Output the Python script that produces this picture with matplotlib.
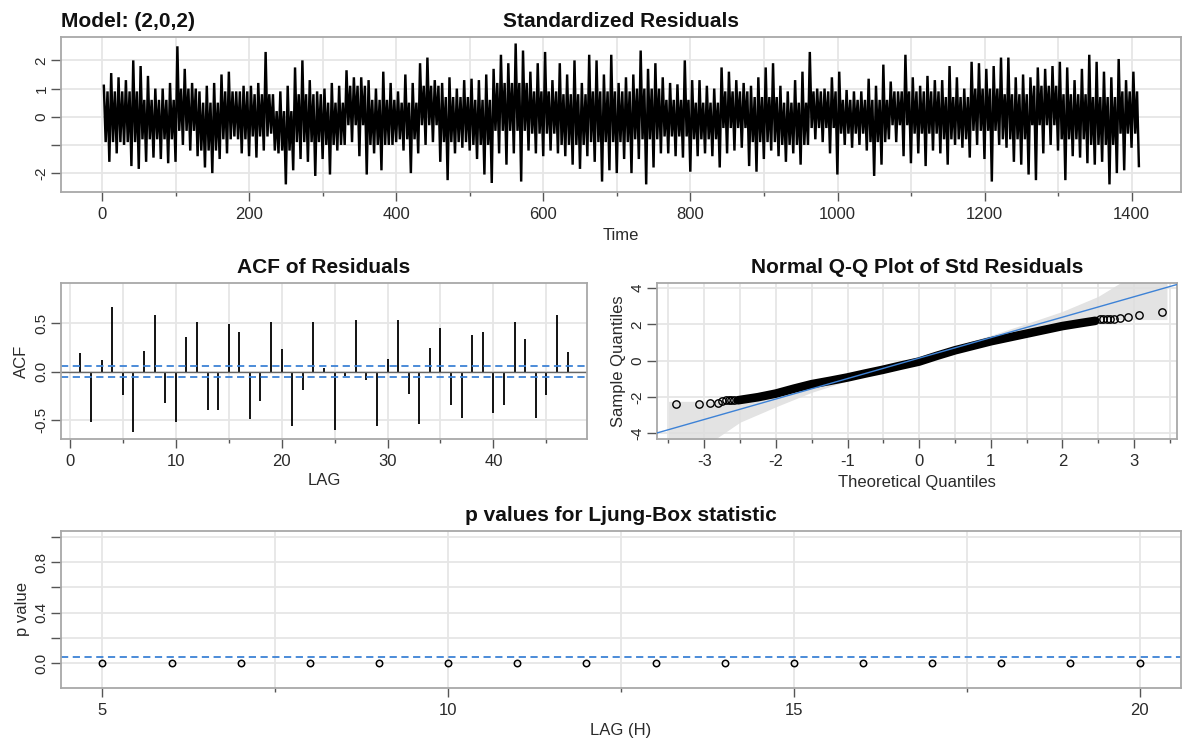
import numpy as np
import matplotlib
matplotlib.use("Agg")
import matplotlib.pyplot as plt

plt.rcParams['font.family'] = ['Liberation Sans', 'DejaVu Sans']
plt.rcParams['axes.unicode_minus'] = False

# ---------------- data ----------------
# standardized residuals: per 10-step bin, highest and lowest excursion
resid_bin_width = 10
resid_hi = [1.1, 1.55, 1.4, 1.3, 2.0, 1.8, 1.45, 1.0, 1.0, 1.2,
            2.5, 1.7, 1.2, 0.9, 1.1, 1.2, 1.5, 1.6, 0.9, 1.1,
            1.1, 1.2, 2.3, 0.8, 0.9, 1.1, 1.75, 2.0, 1.3, 0.9,
            1.0, 1.2, 1.1, 1.65, 1.4, 1.4, 1.3, 1.0, 1.6, 1.2,
            0.9, 1.5, 1.2, 1.9, 2.1, 1.3, 1.2, 1.4, 1.0, 1.3,
            1.35, 1.3, 1.5, 1.7, 2.2, 1.9, 2.6, 2.35, 1.6, 1.9,
            2.3, 1.3, 1.9, 1.5, 2.0, 1.2, 2.2, 2.0, 1.5, 2.2,
            1.2, 1.4, 1.5, 2.35, 1.7, 1.9, 1.4, 1.2, 1.15, 2.0,
            1.3, 1.3, 1.1, 1.0, 1.75, 1.6, 1.3, 1.2, 1.1, 1.4,
            1.75, 1.9, 1.1, 0.9, 1.3, 1.6, 2.3, 1.0, 1.0, 1.4,
            1.6, 0.95, 0.9, 0.9, 1.35, 1.1, 1.85, 1.25, 0.9, 2.2,
            1.4, 1.1, 1.45, 1.3, 1.3, 1.8, 1.4, 1.0, 1.95, 1.9,
            1.7, 1.8, 2.1, 2.1, 1.4, 1.5, 1.4, 1.75, 1.7, 1.8,
            1.95, 1.75, 1.3, 1.7, 2.2, 1.95, 1.6, 1.4, 2.05, 1.3,
            1.6]
resid_lo = [-1.6, -1.3, -1.0, -1.75, -1.85, -1.6, -1.45, -1.5, -1.65, -1.6,
            -1.0, -1.2, -1.4, -1.8, -2.0, -1.5, -1.3, -0.7, -1.3, -1.4,
            -1.45, -1.2, -0.6, -1.3, -2.4, -1.9, -1.5, -1.6, -2.1, -1.5,
            -2.05, -1.2, -1.0, -0.9, -1.4, -2.05, -1.3, -1.9, -1.0, -0.9,
            -1.2, -2.0, -1.3, -1.0, -0.9, -1.6, -2.25, -1.3, -1.1, -1.2,
            -1.5, -2.05, -2.35, -1.3, -1.7, -1.3, -2.3, -1.2, -1.3, -1.4,
            -1.2, -1.3, -1.4, -1.7, -1.85, -1.4, -1.6, -2.3, -1.9, -2.0,
            -1.5, -2.0, -1.5, -2.4, -1.8, -1.3, -1.3, -1.4, -1.45, -1.95,
            -1.4, -1.3, -1.4, -1.8, -1.3, -1.2, -1.1, -1.75, -1.95, -1.5,
            -1.2, -1.4, -1.6, -1.3, -1.7, -1.0, -0.8, -0.9, -1.3, -2.05,
            -1.0, -1.1, -1.0, -1.2, -2.1, -1.7, -0.8, -0.9, -1.4, -1.65,
            -1.3, -1.75, -1.2, -1.3, -1.7, -1.0, -1.1, -1.45, -1.0, -1.5,
            -2.3, -1.0, -1.1, -1.6, -1.7, -2.05, -2.25, -1.3, -1.0, -1.2,
            -2.25, -1.4, -1.45, -1.65, -1.7, -1.6, -2.4, -2.0, -1.9, -1.1,
            -1.75]
# typical extent of the dense core of the trace, per stretch of time
core_seg_start = [0, 50, 100, 130, 160, 200, 230, 260, 300, 330, 360, 400, 430,
                  460, 500, 530, 580, 620, 660, 720, 760, 800, 840, 880, 920, 960,
                  1000, 1040, 1070, 1100, 1140, 1180, 1220, 1260, 1300, 1340, 1380]
core_lo = [-0.9, -0.8, -0.5, -1.2, -0.8, -0.7, -1.2, -0.9, -1.0, -0.3, -1.0, -0.8,
           -0.3, -0.9, -1.0, -0.5, -0.6, -1.0, -0.9, -0.8, -0.7, -0.8, -0.4, -0.9,
           -1.0, -0.4, -0.6, -0.9, -0.3, -0.6, -0.8, -0.5, -0.8, -0.3, -0.8, -1.0, -0.6]
core_hi = [0.9, 0.6, 1.0, 0.5, 0.9, 0.8, 0.2, 0.8, 0.5, 1.1, 0.6, 0.5, 1.1, 0.7,
           0.6, 1.2, 0.9, 0.8, 0.9, 1.0, 0.6, 0.5, 0.9, 0.7, 0.5, 0.9, 0.6, 0.6,
           0.9, 0.9, 0.7, 1.0, 0.8, 1.1, 0.8, 0.7, 0.9]

acf_lags = list(range(1, 48))
acf_values = [0.19, -0.52, 0.12, 0.67, -0.24, -0.63, 0.21, 0.59, -0.33, -0.52,
              0.36, 0.52, -0.40, -0.40, 0.49, 0.41, -0.49, -0.31, 0.51, 0.23,
              -0.57, -0.19, 0.52, 0.04, -0.61, -0.05, 0.54, -0.09, -0.56, 0.13,
              0.54, -0.23, -0.54, 0.24, 0.45, -0.35, -0.48, 0.375, 0.41, -0.43,
              -0.35, 0.52, 0.34, -0.48, -0.24, 0.59, 0.20]
acf_bound = 0.053

qq_core_theo = [-2.53, -2.25, -2.0, -1.75, -1.5, -1.25, -1.0, -0.75, -0.5, -0.25,
                0.0, 0.25, 0.5, 0.75, 1.0, 1.25, 1.5, 1.75, 2.0, 2.25, 2.46]
qq_core_sample = [-2.19, -2.02, -1.82, -1.55, -1.30, -1.12, -0.93, -0.71, -0.50, -0.27,
                  -0.05, 0.27, 0.57, 0.82, 1.07, 1.28, 1.49, 1.70, 1.91, 2.07, 2.20]
qq_tail_theo = [-3.39, -3.07, -2.92, -2.81, -2.75, -2.70, -2.66, -2.62, -2.58,
                2.52, 2.57, 2.62, 2.67, 2.72, 2.81, 2.92, 3.07, 3.39]
qq_tail_sample = [-2.39, -2.39, -2.34, -2.34, -2.21, -2.20, -2.20, -2.19, -2.19,
                  2.28, 2.29, 2.30, 2.30, 2.31, 2.38, 2.39, 2.50, 2.69]
qq_line_intercept = 0.14
qq_line_slope = 1.13
qq_band_x = [-3.5, -3.0, -2.5, -2.0, -1.5, -1.0, -0.5, 0.0, 0.5, 1.0, 1.5, 2.0, 2.5, 2.83, 3.46]
qq_band_upper = [-2.25, -2.25, -2.2, -1.85, -1.38, -0.86, -0.33, 0.22, 0.80, 1.40, 2.05, 2.72, 3.55, 4.35, 5.6]
qq_band_lower = [-5.6, -4.75, -3.40, -2.55, -1.75, -1.12, -0.52, 0.06, 0.61, 1.14, 1.62, 2.10, 2.25, 2.27, 2.27]

lb_lags = list(range(5, 21))
lb_pvalues = [0.0] * 16
lb_level = 0.05

# ---------------- styling ----------------
W, H = 1183, 740
BLUE = '#3d82d6'
GRID = '#e6e6e6'
SPINE = '#a8a8a8'
TXT = '#2a2a2a'
TICKC = '#555555'
XT = 12
YT = 11
TT = 15
LAB = 12

fig = plt.figure(figsize=(W / 100, H / 100), dpi=100)


def axes_px(l, t, r, b):
    return fig.add_axes([l / W, 1 - b / H, (r - l) / W, (b - t) / H])


def style(ax):
    for s in ax.spines.values():
        s.set_color(SPINE)
        s.set_linewidth(1.3)
    ax.set_axisbelow(True)
    ax.grid(True, which='both', color=GRID, lw=1.3)
    ax.tick_params(axis='x', which='major', length=6.5, width=1.0, color=TICKC,
                   labelsize=XT, labelcolor=TXT, pad=4.5)
    ax.tick_params(axis='x', which='minor', length=3, width=1.0, color=TICKC)
    ax.tick_params(axis='y', which='major', length=7, width=1.0, color=TICKC,
                   labelsize=YT, labelcolor=TXT, pad=2, labelrotation=90)
    for lab in ax.get_yticklabels():
        lab.set_va('center')


def xlabel(ax, text, px_below, height_px):
    ax.set_xlabel(text, fontsize=LAB, color=TXT, va='center')
    ax.xaxis.set_label_coords(0.5, -px_below / height_px)


def ylabel(ax, text, px_left, width_px):
    ax.set_ylabel(text, fontsize=LAB, color=TXT, va='center')
    ax.yaxis.set_label_coords(-px_left / width_px, 0.5)


# ---------------- top: standardized residuals ----------------
ax1 = axes_px(61, 37, 1181, 192)
t_vals, r_vals = [], []
for i, (hi, lo) in enumerate(zip(resid_hi, resid_lo)):
    base = 1 + i * resid_bin_width
    k = int(np.searchsorted(core_seg_start, base, side='right')) - 1
    t_vals += [base + 1.25, base + 3.75, base + 6.25, base + 8.75]
    r_vals += [hi, core_lo[k], core_hi[k], lo]
ax1.plot(t_vals, r_vals, color='black', lw=1.75, zorder=3, solid_joinstyle='miter')
ax1.set_xlim(-56, 1467)
ax1.set_ylim(-2.67, 2.83)
ax1.set_xticks(np.arange(0, 1401, 200))
ax1.set_xticks(np.arange(100, 1400, 200), minor=True)
ax1.set_yticks([-2, -1, 0, 1, 2])
ax1.set_yticklabels(['-2', '', '0', '1', '2'])
style(ax1)
ax1.set_title('Standardized Residuals', fontsize=TT, fontweight='bold', pad=7, color='#111111')
ax1.set_title('Model: (2,0,2)', loc='left', fontsize=TT, fontweight='bold', pad=7, color='#111111')
xlabel(ax1, 'Time', 43, 155)

# ---------------- ACF ----------------
ax2 = axes_px(61, 283, 587, 439)
ax2.vlines(acf_lags, 0, acf_values, color='black', lw=1.3)
ax2.axhline(0, color='#666666', lw=1.0)
for b in (acf_bound, -acf_bound):
    ax2.axhline(b, color=BLUE, lw=1.3, ls=(0, (4, 2.5)))
ax2.set_xlim(-0.84, 48.84)
ax2.set_ylim(-0.70, 0.92)
ax2.set_xticks([0, 10, 20, 30, 40])
ax2.set_xticks([5, 15, 25, 35, 45], minor=True)
ax2.set_yticks([-0.5, 0.0, 0.5])
ax2.set_yticklabels(['-0.5', '0.0', '0.5'])
style(ax2)
ax2.set_title('ACF of Residuals', fontsize=TT, fontweight='bold', pad=7, color='#111111')
xlabel(ax2, 'LAG', 41, 156)
ylabel(ax2, 'ACF', 40, 526)

# ---------------- QQ ----------------
ax3 = axes_px(657, 283, 1177, 439)
ax3.fill_between(qq_band_x, qq_band_lower, qq_band_upper, color='#dedede', alpha=0.85, lw=0, zorder=1.5)
xl = np.array([-3.66, 3.60])
ax3.plot(qq_core_theo, qq_core_sample, color='black', lw=6.2, solid_capstyle='round', zorder=3)
ax3.plot(qq_tail_theo, qq_tail_sample, ls='none', marker='o', ms=5.3, mfc='none',
         mec='black', mew=1.0, zorder=3)
ax3.plot(xl, qq_line_intercept + qq_line_slope * xl, color=BLUE, lw=1.0, zorder=4)
ax3.set_xlim(-3.66, 3.60)
ax3.set_ylim(-4.33, 4.29)
ax3.set_xticks([-3, -2, -1, 0, 1, 2, 3])
ax3.set_xticks([-3.5, -2.5, -1.5, -0.5, 0.5, 1.5, 2.5, 3.5], minor=True)
ax3.set_yticks([-4, -2, 0, 2, 4])
style(ax3)
ax3.set_title('Normal Q-Q Plot of Std Residuals', fontsize=TT, fontweight='bold', pad=7, color='#111111')
xlabel(ax3, 'Theoretical Quantiles', 43, 156)
ylabel(ax3, 'Sample Quantiles', 39, 520)

# ---------------- Ljung-Box ----------------
ax4 = axes_px(61, 531, 1181, 688)
ax4.axhline(lb_level, color=BLUE, lw=1.3, ls=(0, (4, 2.5)))
ax4.plot(lb_lags, lb_pvalues, ls='none', marker='o', ms=4.6, mfc='none', mec='black', mew=1.1)
ax4.set_xlim(4.4, 20.6)
ax4.set_ylim(-0.196, 1.046)
ax4.set_xticks([5, 10, 15, 20])
ax4.set_xticks([7.5, 12.5, 17.5], minor=True)
ax4.set_yticks([0.0, 0.2, 0.4, 0.6, 0.8, 1.0])
ax4.set_yticklabels(['0.0', '', '0.4', '', '0.8', ''])
style(ax4)
ax4.set_title('p values for Ljung-Box statistic', fontsize=TT, fontweight='bold', pad=7, color='#111111')
xlabel(ax4, 'LAG (H)', 42, 157)
ylabel(ax4, 'p value', 38, 1120)

fig.savefig('out.png', dpi=100, facecolor='white')
